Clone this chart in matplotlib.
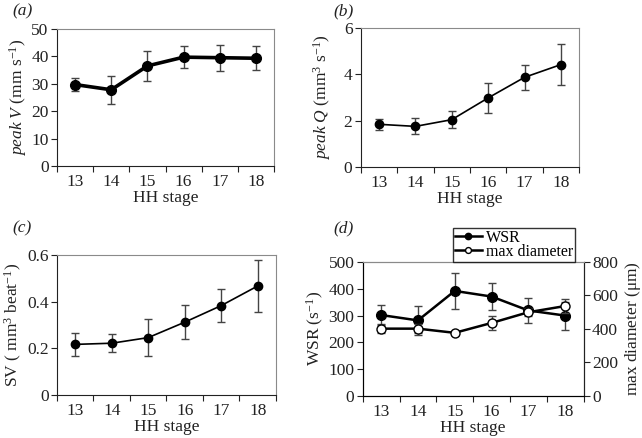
import matplotlib
matplotlib.use('Agg')
import matplotlib.pyplot as plt
import numpy as np

plt.rcParams['font.family'] = ['Liberation Serif', 'DejaVu Serif']
plt.rcParams['mathtext.fontset'] = 'custom'
plt.rcParams['mathtext.rm'] = 'Liberation Serif'
plt.rcParams['mathtext.it'] = 'Liberation Serif:italic'
plt.rcParams['font.size'] = 12.5

stages = [13, 14, 15, 16, 17, 18]

# (a) peak velocity
peak_v = [29.7, 27.8, 36.5, 39.7, 39.5, 39.3]
peak_v_err = [2.3, 5.2, 5.5, 3.9, 4.7, 4.4]

# (b) peak flow
peak_q = [1.84, 1.75, 2.04, 2.98, 3.87, 4.42]
peak_q_err = [0.24, 0.35, 0.37, 0.64, 0.53, 0.87]

# (c) stroke volume
sv = [0.217, 0.222, 0.246, 0.312, 0.383, 0.467]
sv_err = [0.048, 0.038, 0.080, 0.073, 0.069, 0.110]

# (d) wall shear rate and max diameter
wsr = [302, 282, 392, 371, 319, 300]
wsr_err = [37, 55, 66, 51, 48, 52]
max_diam = [402, 402, 377, 436, 500, 537]
max_diam_err = [26, 28, 12, 42, 25, 40]

fig = plt.figure(figsize=(6.42, 4.38), dpi=100)

dark = '#222222'
grey = '#8a8a8a'


def style_axes(ax, ymax, yticks, right_axis=False):
    x = np.arange(len(stages))
    ax.set_xlim(-0.5, len(stages) - 0.5)
    ax.set_ylim(0, ymax)
    ax.set_yticks(yticks)
    ax.set_xticks(np.arange(len(stages) + 1) - 0.5)
    ax.set_xticklabels([])
    ax.set_xticks(x, minor=True)
    ax.set_xticklabels(stages, minor=True)
    ax.tick_params(axis='x', which='major', direction='out', length=4, color=dark)
    ax.tick_params(axis='x', which='minor', length=0, pad=6, labelcolor=dark)
    ax.tick_params(axis='y', direction='out', length=4, color=dark, labelcolor=dark, pad=2)
    ax.spines['top'].set_color(grey)
    if not right_axis:
        ax.spines['right'].set_color(grey)
    ax.spines['left'].set_color(dark)
    ax.spines['bottom'].set_color(dark)
    ax.set_xlabel('HH stage', color=dark, labelpad=0)
    return x


# (a)
ax1 = fig.add_axes([0.0888, 0.621, 0.338, 0.313])
x = style_axes(ax1, 50, [0, 10, 20, 30, 40, 50])
ax1.errorbar(x, peak_v, yerr=peak_v_err, color='black', lw=2.6, marker='o', ms=7,
             ecolor='#444444', elinewidth=1, capsize=3, capthick=1)
ax1.set_ylabel(r'$\it{peak\ V}$ (mm s$^{-1}$)', color=dark, labelpad=2)

# (b)
ax2 = fig.add_axes([0.562, 0.619, 0.340, 0.317])
x = style_axes(ax2, 6, [0, 2, 4, 6])
ax2.errorbar(x, peak_q, yerr=peak_q_err, color='black', lw=1.2, marker='o', ms=6,
             ecolor='#444444', elinewidth=1, capsize=3, capthick=1)
ax2.set_ylabel(r'$\it{peak\ Q}$ (mm$^3$ s$^{-1}$)', color=dark, labelpad=8)

# (c)
ax3 = fig.add_axes([0.0888, 0.098, 0.341, 0.320])
x = style_axes(ax3, 0.6, [0, 0.2, 0.4, 0.6])
ax3.set_yticklabels(['0', '0.2', '0.4', '0.6'])
ax3.errorbar(x, sv, yerr=sv_err, color='black', lw=1.2, marker='o', ms=6,
             ecolor='#444444', elinewidth=1, capsize=3, capthick=1)
ax3.set_ylabel(r'SV ( mm$^3$ beat$^{-1}$)', color=dark, labelpad=2)

# (d)
ax4 = fig.add_axes([0.565, 0.0959, 0.344, 0.306])
x = style_axes(ax4, 500, [0, 100, 200, 300, 400, 500], right_axis=True)
ax4.spines['right'].set_color(dark)
l1 = ax4.errorbar(x, wsr, yerr=wsr_err, color='black', lw=1.8, marker='o', ms=7,
                  ecolor='#444444', elinewidth=1, capsize=3, capthick=1, zorder=3)
ax4.set_ylabel(r'WSR (s$^{-1}$)', color=dark, labelpad=2)
ax5 = ax4.twinx()
ax5.set_ylim(0, 800)
ax5.set_yticks([0, 200, 400, 600, 800])
ax5.tick_params(axis='y', direction='out', length=4, color=dark, labelcolor=dark, pad=2)
ax5.spines['right'].set_color(dark)
ax5.spines['top'].set_color(grey)
l2 = ax5.errorbar(x, max_diam, yerr=max_diam_err, color='black', lw=1.8, marker='o', ms=6.5,
                  mfc='white', mec='black', ecolor='#444444', elinewidth=1, capsize=3,
                  capthick=1)
ax5.set_ylabel(r'max diameter ($\mathrm{\mu}$m)', color=dark, labelpad=4)
leg = fig.legend([l1[0], l2[0]], ['WSR', 'max diameter'], loc='upper left',
                 bbox_to_anchor=(453 / 642, 1 - 228 / 438), frameon=True, fancybox=False,
                 borderpad=0.1, handlelength=1.7, handletextpad=0.25, labelspacing=-0.1,
                 markerscale=0.65, fontsize=11.5, borderaxespad=0)
leg.get_frame().set_edgecolor('black')
leg.get_frame().set_linewidth(1)

for label, (fx, fy) in zip(['(a)', '(b)', '(c)', '(d)'],
                           [(12, 11), (333, 11), (12, 228), (333, 228)]):
    fig.text(fx / 642, 1 - fy / 438, label, style='italic', fontsize=12.5, color=dark,
             ha='left', va='center')

fig.savefig('out.png', dpi=100)
